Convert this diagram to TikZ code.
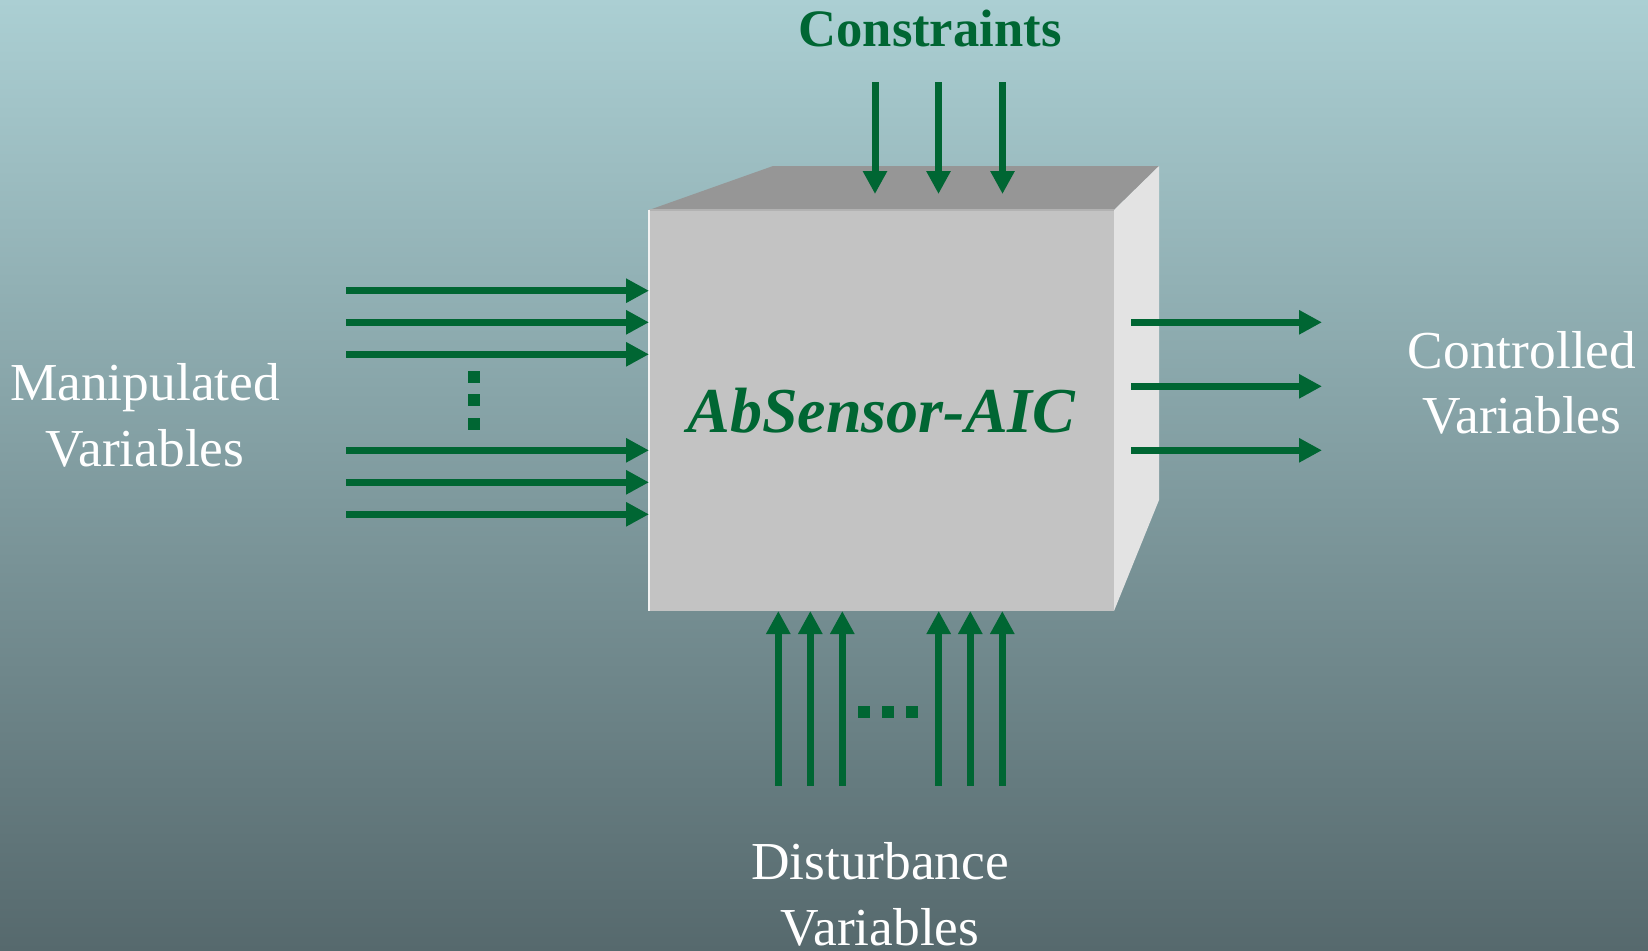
\documentclass[tikz,border=0pt]{standalone}
\usepackage{fontspec}
\setmainfont{Liberation Serif}
\usepackage{xcolor}
\usetikzlibrary{arrows.meta}
\definecolor{accent}{RGB}{0,102,51}
\definecolor{bgtop}{RGB}{171,207,211}
\definecolor{bgbot}{RGB}{86,105,109}
\definecolor{frontgray}{RGB}{195,195,195}
\definecolor{topgray}{RGB}{150,150,150}
\definecolor{sidegray}{RGB}{227,227,227}
\definecolor{edgegray}{RGB}{178,178,178}

\begin{document}
\begin{tikzpicture}[x=0.5pt,y=-0.5pt,
  front/.style={fill=frontgray,inner sep=0pt,outer sep=0pt,minimum width=232.5pt,minimum height=200.5pt,text=accent,font=\fontsize{32}{38}\selectfont\bfseries\itshape},
  topface/.style={fill=topgray},
  sideface/.style={fill=sidegray},
  lbl/.style={text=white,align=center,anchor=base,font=\fontsize{26.7}{32.6}\selectfont},
  glbl/.style={text=accent,anchor=base,font=\fontsize{26.3}{31.7}\selectfont\bfseries},
  dot/.style={fill=accent,minimum size=6pt,inner sep=0pt},
  arr/.style={-{Triangle[length=11.5pt,width=11.5pt]},line width=3.5pt,accent}]
\useasboundingbox (0,0) rectangle (1648,950);
\shade[top color=bgtop,bottom color=bgbot] (0,0) rectangle (1648,950);
% the block
\node[front] (cube) at (881.5,410.5) {AbSensor-AIC};
\fill[topface] (cube.north west) -- ++(124,-44) -- ++(386,0) -- (cube.north east) -- cycle;
\fill[sideface] (cube.north east) -- ++(45,-44) -- ++(0,334) -- (cube.south east) -- cycle;
\draw[edgegray,line width=1pt] (cube.north west) -- (cube.north east);
\draw[white!90!gray,line width=1pt] (cube.north west) -- (cube.south west);
% inputs, outputs
\foreach \y [count=\i] in {290.7,322.3,354.3,450.3,482.3,514.3} {
  \coordinate (mv\i) at (346,\y);
  \draw[arr] (mv\i) -- (mv\i -| cube.west);
}
\foreach \x [count=\i] in {875,938.5,1002.5} {
  \coordinate (cn\i) at (\x,82);
  \draw[arr] (cn\i) -- ++(0,112);
}
\foreach \x [count=\i] in {778.3,810.3,842.3,938.7,970.3,1002.3} {
  \coordinate (dv\i) at (\x,785.7);
  \draw[arr] (dv\i) -- (dv\i |- cube.south);
}
\foreach \y [count=\i] in {322.3,386.3,450.3} {
  \coordinate (cv\i) at (1131,\y);
  \draw[arr] (cv\i) -- ++(191,0);
}
\foreach \y [count=\i] in {376.7,400.3,424.3}
  \node[dot] (vd\i) at (474.3,\y) {};
\foreach \x [count=\i] in {864.3,888.3,912.3}
  \node[dot] (hd\i) at (\x,712) {};
% labels (base = last line)
\node[glbl] (constr) at (930,46.7) {Constraints};
\node[lbl] (manip) at (145,466) {Manipulated\\Variables};
\node[lbl] (contr) at (1522,433.5) {Controlled\\Variables};
\node[lbl] (dist) at (880,945) {Disturbance\\Variables};
\end{tikzpicture}
\end{document}
